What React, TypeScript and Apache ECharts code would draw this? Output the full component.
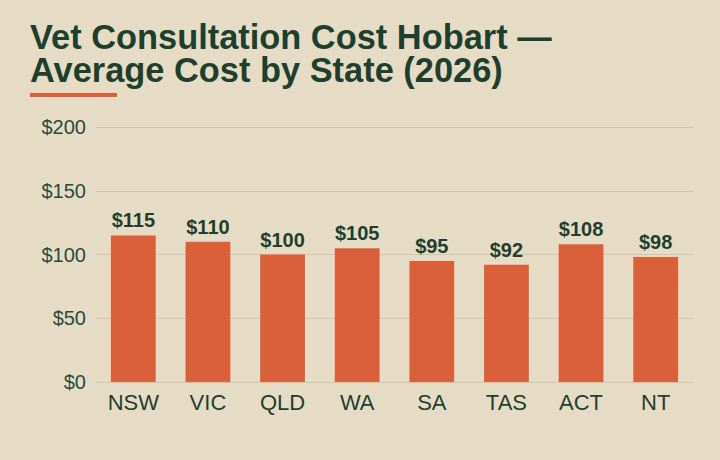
import React, { useEffect, useRef } from "react";
import * as echarts from "echarts";

const categories = ["NSW", "VIC", "QLD", "WA", "SA", "TAS", "ACT", "NT"];
const costs = [115, 110, 100, 105, 95, 92, 108, 98];
const titleLines = ["Vet Consultation Cost Hobart —", "Average Cost by State (2026)"];

const BG = "#e6dcc5";
const BAR = "#d9603b";
const DARK = "#1e3f2e";
const FONT = "'Liberation Sans', Arial, sans-serif";

export default function App() {
  const ref = useRef<HTMLDivElement>(null);
  useEffect(() => {
    document.body.style.margin = "0";
    if (!ref.current) return;
    const chart = echarts.init(ref.current, undefined, { renderer: "svg" });
    const titleStyle = {
      fontFamily: FONT,
      fontSize: 34.4,
      fontWeight: "bold",
      color: DARK,
      lineHeight: 32,
    };
    chart.setOption({
      animation: false,
      backgroundColor: BG,
      textStyle: { fontFamily: FONT },
      title: titleLines.map((t, i) => ({
        text: t,
        left: 30,
        top: 21 + i * 32.5,
        padding: 0,
        textStyle: titleStyle,
      })),
      graphic: [
        {
          type: "rect",
          left: 30,
          top: 93,
          shape: { width: 87, height: 4 },
          style: { fill: BAR },
        },
      ],
      grid: { left: 96, right: 27, top: 127, bottom: 78 },
      xAxis: {
        type: "category",
        data: categories,
        axisLine: { show: false },
        axisTick: { show: false },
        axisLabel: { color: DARK, fontSize: 22, margin: 9, fontFamily: FONT },
      },
      yAxis: {
        type: "value",
        min: 0,
        max: 200,
        interval: 50,
        axisLine: { show: false },
        axisTick: { show: false },
        splitLine: { lineStyle: { color: "#d0c6ab", width: 1 } },
        axisLabel: {
          color: "#2b4a3a",
          fontSize: 20,
          margin: 10,
          fontFamily: FONT,
          formatter: (v: number) => "$" + v,
        },
      },
      series: [
        {
          type: "bar",
          data: costs,
          barWidth: "60%",
          itemStyle: { color: BAR },
          label: {
            show: true,
            position: "top",
            distance: 5,
            color: DARK,
            fontSize: 20,
            fontWeight: "bold",
            fontFamily: FONT,
            formatter: (p: any) => "$" + p.value,
          },
        },
      ],
    });
    return () => chart.dispose();
  }, []);
  return <div ref={ref} style={{ width: 720, height: 460 }} />;
}
